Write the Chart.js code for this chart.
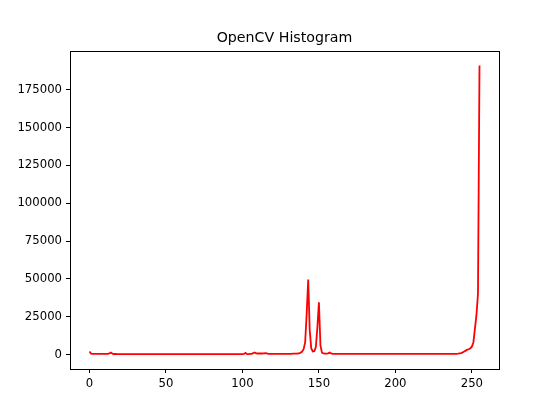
<!DOCTYPE html>
<html lang="en">
<head>
  <meta charset="UTF-8">
  <title>OpenCV Histogram</title>
  <script src="https://cdn.jsdelivr.net/npm/chart.js"></script>
  <style>
    body { margin: 0; background: #fff; }
    #wrap { width: 554px; height: 416px; }
  </style>
</head>
<body>
  <div id="wrap"><canvas id="hist"></canvas></div>
  <script>
    // pixel counts per intensity bin (0..255)
    const counts = [
      2000, 600, 500, 450, 450, 400, 400, 450, 400, 400, 450, 400, 450, 700, 1300, 600,
      350, 350, 300, 300, 300, 300, 300, 300, 300, 300, 300, 300, 300, 300, 300, 300,
      300, 300, 300, 300, 300, 300, 300, 300, 300, 300, 300, 300, 300, 300, 300, 300,
      300, 300, 300, 300, 300, 300, 300, 300, 300, 300, 300, 300, 300, 300, 300, 300,
      300, 300, 300, 300, 300, 300, 300, 300, 300, 300, 300, 300, 300, 300, 300, 300,
      300, 300, 300, 300, 300, 300, 300, 300, 300, 300, 300, 300, 300, 300, 300, 300,
      300, 300, 300, 300, 300, 400, 1100, 300, 300, 400, 500, 900, 1400, 800, 700, 700,
      700, 700, 800, 900, 700, 500, 450, 400, 400, 400, 400, 400, 400, 400, 450, 450,
      450, 500, 500, 500, 500, 550, 600, 650, 700, 800, 1200, 2000, 3500, 8000, 27000, 49500,
      16000, 4000, 2000, 2200, 5000, 18000, 34500, 6000, 1200, 700, 600, 600, 800, 1300, 700, 500,
      400, 400, 400, 400, 400, 400, 400, 400, 400, 400, 400, 400, 400, 400, 400, 400,
      400, 400, 400, 400, 450, 400, 400, 400, 400, 400, 400, 400, 400, 400, 400, 400,
      400, 400, 400, 400, 400, 400, 400, 400, 400, 400, 400, 400, 400, 400, 400, 400,
      400, 400, 400, 400, 400, 400, 400, 400, 400, 400, 400, 400, 400, 400, 400, 400,
      400, 400, 400, 400, 400, 400, 400, 400, 400, 400, 450, 450, 450, 450, 500, 500,
      500, 600, 800, 1000, 1400, 2000, 2600, 3200, 3500, 4200, 5200, 8000, 17000, 26000, 40000, 191000
    ];
    const xTicks = [0, 50, 100, 150, 200, 250];
    const yTicks = [0, 25000, 50000, 75000, 100000, 125000, 150000, 175000];

    const points = counts.map((v, i) => ({ x: i, y: v }));

    const font = { family: "'DejaVu Sans', sans-serif", size: 11.7 };

    const frame = {
      id: 'frame',
      afterDraw(chart) {
        const a = chart.chartArea, ctx = chart.ctx;
        ctx.save();
        ctx.strokeStyle = '#000';
        ctx.lineWidth = 1;
        ctx.strokeRect(Math.round(a.left) + 0.5, Math.round(a.top) + 0.5,
          Math.round(a.right - a.left), Math.round(a.bottom - a.top));
        ctx.restore();
      }
    };

    new Chart(document.getElementById('hist'), {
      type: 'line',
      data: {
        datasets: [{
          data: points,
          borderColor: '#ff0000',
          borderWidth: 1.8,
          pointRadius: 0,
          tension: 0,
          fill: false
        }]
      },
      options: {
        responsive: true,
        maintainAspectRatio: false,
        animation: false,
        events: [],
        layout: { padding: { left: 0, right: 55, top: 0, bottom: 0 } },
        plugins: {
          legend: { display: false },
          tooltip: { enabled: false },
          title: {
            display: true,
            text: 'OpenCV Histogram',
            fullSize: false,
            color: '#000',
            font: { family: "'DejaVu Sans', sans-serif", size: 14.2, weight: 'normal' },
            padding: { top: 29.5, bottom: 4.5 }
          }
        },
        scales: {
          x: {
            type: 'linear',
            min: -12.75,
            max: 267.75,
            afterBuildTicks: s => { s.ticks = xTicks.map(v => ({ value: v })); },
            afterFit: s => { s.height = 47; },
            ticks: { color: '#000', font: font, padding: 4, maxRotation: 0 },
            grid: { drawOnChartArea: false, tickLength: 4, color: '#000' },
            border: { color: '#000' }
          },
          y: {
            min: -9550,
            max: 200550,
            afterBuildTicks: s => { s.ticks = yTicks.map(v => ({ value: v })); },
            afterFit: s => { s.width = 70; },
            ticks: { color: '#000', font: font, padding: 4, callback: v => String(v) },
            grid: { drawOnChartArea: false, tickLength: 4, color: '#000' },
            border: { color: '#000' }
          }
        }
      },
      plugins: [frame]
    });
  </script>
</body>
</html>
